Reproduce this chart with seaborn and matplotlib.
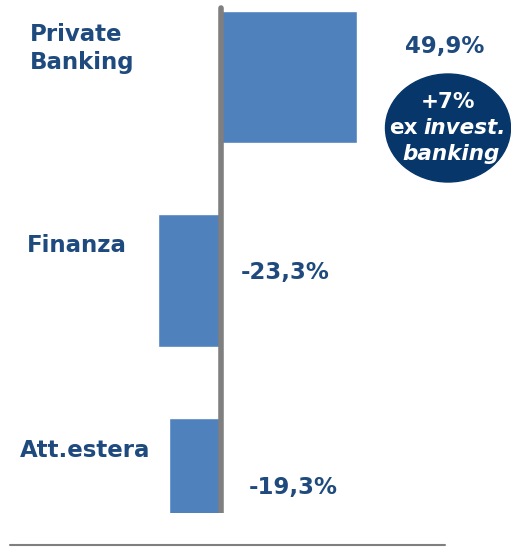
import numpy as np
import seaborn as sns
import matplotlib.pyplot as plt
import pandas as pd
from matplotlib.patches import Ellipse
from matplotlib.lines import Line2D

categories = ['Private\nBanking', 'Finanza', 'Att.estera']
values = [49.9, -23.3, -19.3]
value_labels = ['49,9%', '-23,3%', '-19,3%']
note_lines = ['+7%', 'ex', 'invest.', 'banking']

text_color = '#1F4A7E'
bar_color = '#4F81BD'
badge_color = '#07366A'


def main():
    sns.set_style('white')
    plt.rcParams['font.family'] = ['DejaVu Sans']

    fig = plt.figure(figsize=(5.11, 5.47), dpi=100)
    W, H = 511, 547
    ax = fig.add_axes([0, (H - 513) / H, 1, 513 / H])

    df = pd.DataFrame({'cat': categories, 'val': values})
    sns.barplot(data=df, x='val', y='cat', orient='h', color=bar_color,
                saturation=1, width=0.65, ax=ax)

    s = 2.72  # px per unit
    ax.set_xlim(-221 / s, (W - 221) / s)
    ax.set_ylim(2 + 29 / 203.5, -77 / 203.5)
    ax.axis('off')

    # zero line
    ax.axvline(0, ymin=0, ymax=1 - 8 / 513, color='#7F7F7F', lw=4)

    fs = 16.5
    # category labels
    lab_x = [30, 27, 20]
    lab_dy = [-0.14, -0.17, -0.165]
    for i, c in enumerate(categories):
        ax.text((lab_x[i] - 221) / s, i + lab_dy[i], c, ha='left', va='center',
                fontsize=fs, fontweight='bold', color=text_color, linespacing=1.3)

    # value labels
    val_x = [445, 241, 249]
    val_ha = ['center', 'left', 'left']
    val_dy = [-0.15, -0.04, 0.015]
    for i, v in enumerate(value_labels):
        ax.text((val_x[i] - 221) / s, i + val_dy[i], v, ha=val_ha[i], va='center',
                fontsize=fs, fontweight='bold', color=text_color)

    # badge
    bfs = 15.5
    ex, ey = (448 - 221) / s, (128 - 77) / 203.5
    ax.add_patch(Ellipse((ex, ey), 125 / s, 108 / 203.5, color=badge_color, clip_on=False))
    ax.text(ex, ey - 0.13, note_lines[0], ha='center', va='center', fontsize=bfs,
            fontweight='bold', color='white')
    ax.text((418 - 221) / s, ey, note_lines[1], ha='right', va='center', fontsize=bfs,
            fontweight='bold', color='white')
    ax.text((423 - 221) / s, ey, note_lines[2], ha='left', va='center', fontsize=bfs,
            fontweight='bold', fontstyle='italic', color='white')
    ax.text(ex + 1, ey + 0.13, note_lines[3], ha='center', va='center', fontsize=bfs,
            fontweight='bold', fontstyle='italic', color='white')

    # bottom rule
    fig.add_artist(Line2D([10 / W, 445 / W], [2.5 / H, 2.5 / H], color='#7F7F7F', lw=1.5))

    fig.savefig('out.png', dpi=100)


if __name__ == '__main__':
    main()
